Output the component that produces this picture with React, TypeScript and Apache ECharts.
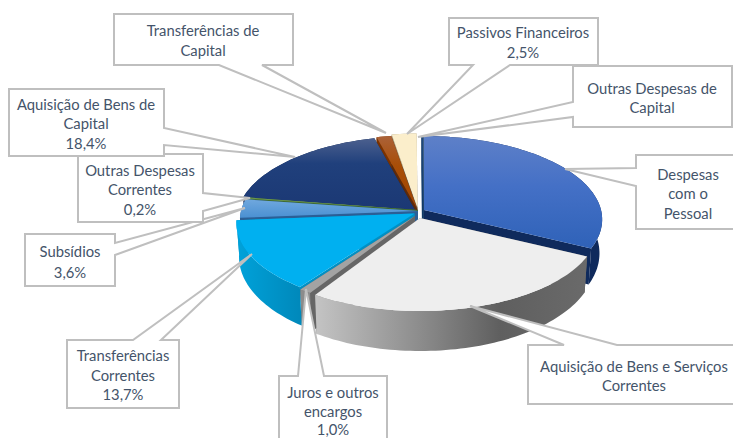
import React, { useEffect, useRef } from "react";
import * as echarts from "echarts";

// ---- data (clockwise from 12 o'clock) ----
const categories = [
  "Despesas com o Pessoal",
  "Aquisição de Bens e Serviços Correntes",
  "Juros e outros encargos",
  "Transferências Correntes",
  "Subsídios",
  "Outras Despesas Correntes",
  "Aquisição de Bens de Capital",
  "Transferências de Capital",
  "Passivos Financeiros",
  "Outras Despesas de Capital",
];
const values = [32.3, 26.7, 1.0, 13.7, 3.6, 0.2, 18.4, 1.5, 2.5, 0.1];

// ---- callout texts, one list of lines per slice ----
const labelLines = [
  ["Despesas", "com o", "Pessoal"],
  ["Aquisição de Bens e Serviços", "Correntes"],
  ["Juros e outros", "encargos", "1,0%"],
  ["Transferências", "Correntes", "13,7%"],
  ["Subsídios", "3,6%"],
  ["Outras Despesas", "Correntes", "0,2%"],
  ["Aquisição de Bens de", "Capital", "18,4%"],
  ["Transferências de", "Capital"],
  ["Passivos Financeiros", "2,5%"],
  ["Outras Despesas de", "Capital"],
];

// ---- geometry and style of the 3D pie ----
const apexX = [424, 420, 415, 414.5, 418, 418, 415, 417.2, 417.6, 423];
const apexY = [210, 218, 216, 213.5, 211, 210, 210, 209, 207.5, 210];
const RX = 177;
const RY = 82.4;
const PERSP = 0.114;
const paintOrder = [9, 8, 7, 0, 6, 5, 4, 3, 2, 1];

const g = (dirX: number, dirY: number, stops: [number, string][]) =>
  new echarts.graphic.LinearGradient(0, 0, dirX, dirY, stops.map(([offset, color]) => ({ offset, color })));

const topFill: any[] = [
  g(0, 1, [[0, "#5e80c8"], [0.45, "#4470c6"], [1, "#2f62b8"]]),
  "#eeeeee",
  "#a3a3a3",
  "#00b0f0",
  g(0, 1, [[0, "#70a8de"], [1, "#4a90d2"]]),
  "#6f9a50",
  g(0, 1, [[0, "#4c608e"], [0.35, "#20407c"], [1, "#1b3874"]]),
  g(0, 1, [[0, "#ab6238"], [0.4, "#a84e08"], [1, "#a04400"]]),
  "#fbeecb",
  "#1f4a80",
];
const wallFill: any[] = [
  "#0f2a5c",
  g(1, 0, [[0, "#c4c4c4"], [0.4, "#8a8a8a"], [0.68, "#5f5f5f"], [1, "#6a6a6a"]]),
  "#8c8c8c",
  g(1, 0, [[0, "#00a2da"], [1, "#0088ba"]]),
  "#2b5f96",
  "#3f6a30",
  "#0f2450",
  "#7a3200",
  "#a89c7c",
  "#123a66",
];
const cutFill = ["#0f2a5c", "#666666", "#666666", "#0090c4", "#2b5f96", "#3f6a30", "#0f2450", "#5e2a0a", "#8a8068", "#123a66"];
const cutStroke = [0, 0, 0, 0, 0, 0, 0, 0, 0, 1.6];

// ---- callout boxes: [x, y, w, h], side of the wedge, wedge base start/end, wedge tip ----
const boxes: { rect: number[]; side: "top" | "bottom" | "left" | "right"; base: number[]; tip: number[]; cx: number; ys: number[] }[] = [
  { rect: [636, 155, 110, 74], side: "left", base: [168, 186], tip: [565, 169], cx: 688, ys: [174, 193, 213] },
  { rect: [528, 345, 220, 59], side: "top", base: [564, 617], tip: [470, 306], cx: 634, ys: [366, 385] },
  { rect: [279, 376, 108, 75], side: "top", base: [298, 324], tip: [306, 289], cx: 333, ys: [392, 411, 428.5] },
  { rect: [67, 340, 112, 68], side: "top", base: [133, 161], tip: [252, 254], cx: 123, ys: [355, 375, 394] },
  { rect: [25, 234, 90, 52], side: "right", base: [243, 255], tip: [245, 208], cx: 70, ys: [251, 272] },
  { rect: [78, 154, 125, 68], side: "right", base: [193, 211], tip: [250, 198], cx: 140, ys: [170, 189, 209] },
  { rect: [9, 89, 155, 67], side: "right", base: [128, 145], tip: [295, 157], cx: 86, ys: [104, 123, 143] },
  { rect: [114, 14, 179, 51], side: "bottom", base: [219, 262], tip: [386, 133], cx: 203, ys: [30, 50] },
  { rect: [449, 18, 149, 47], side: "bottom", base: [473, 510], tip: [407, 134], cx: 523, ys: [32, 52] },
  { rect: [573, 66, 159, 61], side: "left", base: [102, 117], tip: [418, 137], cx: 652, ys: [88, 107] },
];
const boxOrder = [4, 5, 6, 7, 8, 9, 0, 1, 2, 3];

const total = values.reduce((a, b) => a + b, 0);
const startAngles = values.map((_, i) => (values.slice(0, i).reduce((a, b) => a + b, 0) / total) * 360);

function rimPoint(i: number, deg: number, low: boolean): number[] {
  const t = (deg * Math.PI) / 180;
  const u = Math.sin(t);
  const v = Math.cos(t);
  const w = 1 + PERSP * v;
  const x = (RX * u) / w;
  const y = (-RY * v) / w;
  if (!low) return [apexX[i] + x, apexY[i] + y];
  const depth = 33 + 7 * Math.max(0, -v);
  return [apexX[i] + x * 0.985, apexY[i] + y + depth];
}

function arcPoints(i: number, low: boolean): number[][] {
  const a0 = startAngles[i];
  const a1 = a0 + (values[i] / total) * 360;
  const n = Math.max(2, Math.ceil((a1 - a0) / 1.5));
  const pts: number[][] = [];
  for (let k = 0; k <= n; k++) pts.push(rimPoint(i, a0 + ((a1 - a0) * k) / n, low));
  return pts;
}

function apexLowY(i: number) {
  return apexY[i] + 33;
}

function renderSlice(_params: any, api: any) {
  const i = api.value(0);
  const top = arcPoints(i, false);
  const low = arcPoints(i, true);
  const apex = [apexX[i], apexY[i]];
  const apexLow = [apexX[i], apexLowY(i)];
  const poly = (points: number[][], fill: any, stroke?: string, lw?: number) => ({
    type: "polygon",
    shape: { points },
    style: { fill, stroke: stroke || null, lineWidth: lw || 0 },
  });
  const sw = cutStroke[i];
  const swCol = sw ? cutFill[i] : undefined;
  return {
    type: "group",
    children: [
      poly([apex, top[0], low[0], apexLow], cutFill[i], swCol, sw),
      poly([apex, top[top.length - 1], low[low.length - 1], apexLow], cutFill[i], swCol, sw),
      poly([...top, ...low.slice().reverse()], wallFill[i]),
      poly([apex, ...top], topFill[i]),
    ],
  };
}

function calloutPoints(b: (typeof boxes)[number]): number[][] {
  const [x, y, w, h] = b.rect;
  const [p, q] = b.base;
  const tl = [x, y];
  const tr = [x + w, y];
  const br = [x + w, y + h];
  const bl = [x, y + h];
  if (b.side === "top") return [tl, [p, y], b.tip, [q, y], tr, br, bl];
  if (b.side === "right") return [tl, tr, [x + w, p], b.tip, [x + w, q], br, bl];
  if (b.side === "bottom") return [tl, tr, br, [q, y + h], b.tip, [p, y + h], bl];
  return [tl, tr, br, bl, [x, q], b.tip, [x, p]];
}

const TEXT_COLOR = "#44546a";
const LINE_COLOR = "#bfbfbf";

function calloutGraphics() {
  const out: any[] = [];
  boxOrder.forEach((i) => {
    const b = boxes[i];
    out.push({
      type: "polygon",
      z: 10,
      silent: true,
      shape: { points: calloutPoints(b) },
      style: { fill: "#ffffff", stroke: LINE_COLOR, lineWidth: 2 },
    });
    labelLines[i].forEach((line, k) => {
      out.push({
        type: "text",
        z: 10,
        silent: true,
        x: b.cx,
        y: b.ys[k],
        style: {
          text: line,
          fill: TEXT_COLOR,
          font: "14.8px Lato, 'Open Sans', sans-serif",
          textAlign: "center",
          textVerticalAlign: "middle",
        },
      });
    });
  });
  return out;
}

export default function App() {
  const ref = useRef<HTMLDivElement>(null);
  useEffect(() => {
    document.body.style.margin = "0";
    document.body.style.overflow = "hidden";
    const chart = echarts.init(ref.current!, undefined, { renderer: "svg" });
    chart.setOption({
      animation: false,
      backgroundColor: "#ffffff",
      series: [
        {
          type: "custom",
          coordinateSystem: "none",
          silent: true,
          renderItem: renderSlice,
          data: paintOrder.map((i) => ({ name: categories[i], value: [i, values[i]] })),
          encode: { value: 1 },
        },
      ],
      graphic: { elements: calloutGraphics() },
    });
    return () => chart.dispose();
  }, []);
  return <div ref={ref} style={{ width: 733, height: 438 }} />;
}
